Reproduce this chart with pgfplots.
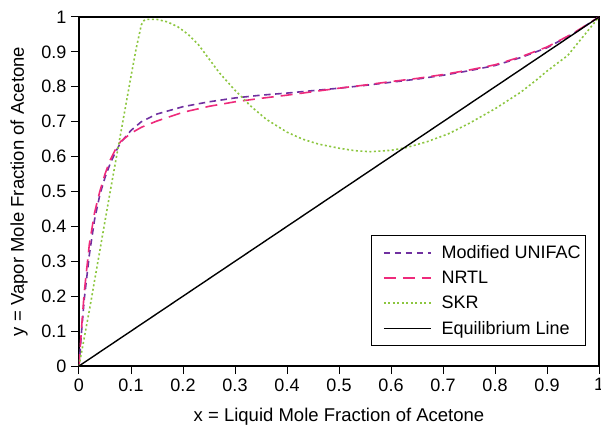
\documentclass[border=0pt]{standalone}
\usepackage{fontspec}
\setmainfont{Liberation Sans}
\usepackage{pgfplots}
\pgfplotsset{compat=1.18}
\definecolor{cpurple}{RGB}{112,48,160}
\definecolor{cpink}{RGB}{238,42,123}
\definecolor{cgreen}{RGB}{140,198,63}
\begin{document}
\begin{tikzpicture}[x=1pt,y=1pt]
\path[use as bounding box] (-79,-59) rectangle (522,366);
\begin{axis}[
  at={(0,0)}, anchor=south west,
  scale only axis, width=520pt, height=349pt,
  xmin=0, xmax=1, ymin=0, ymax=1,
  xtick={0,0.1,0.2,0.3,0.4,0.5,0.6,0.7,0.8,0.9,1},
  ytick={0,0.1,0.2,0.3,0.4,0.5,0.6,0.7,0.8,0.9,1},
  xticklabels={0,0.1,0.2,0.3,0.4,0.5,0.6,0.7,0.8,0.9,1},
  yticklabels={0,0.1,0.2,0.3,0.4,0.5,0.6,0.7,0.8,0.9,1},
  tick align=outside, xtick pos=bottom, ytick pos=left,
  major tick length=8pt,
  tick style={black, line width=1pt},
  axis line style={line width=1.1pt},
  ticklabel style={font=\fontsize{18}{21}\selectfont},
  yticklabel style={xshift=-1pt},
  xticklabel style={yshift=-1pt},
  every axis x label/.style={at={(axis description cs:0.5,-0.146)}, anchor=center},
  every axis y label/.style={at={(axis description cs:-0.1154,0.5)}, anchor=center, rotate=90},
  label style={font=\fontsize{18.5}{21}\selectfont},
  xlabel={x = Liquid Mole Fraction of Acetone},
  ylabel={y = Vapor Mole Fraction of Acetone},
  legend style={at={(0.975,0.057)}, anchor=south east, draw=black, line width=0.8pt,
    font=\fontsize{18}{21}\selectfont, row sep=7pt, inner xsep=3pt, inner ysep=8pt},
  legend cell align=left,
  legend image code/.code={\path (0pt,0pt); \draw[#1] (9pt,0pt) -- (56pt,0pt); \path (64pt,0pt);},
]
\addplot[cpurple, line width=1.6pt, dash pattern=on 6.5pt off 4.5pt] coordinates {
(0,0) (0.005,0.10) (0.01,0.19) (0.02,0.32) (0.03,0.42) (0.04,0.49) (0.05,0.54)
(0.06,0.58) (0.07,0.612) (0.08,0.64) (0.1,0.675) (0.12,0.70) (0.15,0.722)
(0.2,0.743) (0.25,0.757) (0.3,0.768) (0.35,0.776) (0.4,0.782) (0.45,0.789)
(0.5,0.796) (0.55,0.804) (0.6,0.813) (0.65,0.822) (0.7,0.833) (0.75,0.846)
(0.8,0.861) (0.85,0.884) (0.9,0.912) (0.95,0.952) (1,1)};
\addlegendentry{Modified UNIFAC}
\addplot[cpink, line width=1.6pt, dash pattern=on 12pt off 7pt] coordinates {
(0,0) (0.005,0.11) (0.01,0.21) (0.02,0.35) (0.03,0.44) (0.04,0.50) (0.05,0.55)
(0.06,0.59) (0.07,0.62) (0.08,0.643) (0.1,0.667) (0.12,0.684) (0.15,0.702)
(0.2,0.727) (0.25,0.744) (0.3,0.757) (0.35,0.767) (0.4,0.776) (0.45,0.786)
(0.5,0.796) (0.55,0.805) (0.6,0.815) (0.65,0.824) (0.7,0.835) (0.75,0.848)
(0.8,0.863) (0.85,0.886) (0.9,0.914) (0.95,0.953) (1,1)};
\addlegendentry{NRTL}
\addplot[cgreen, line width=1.6pt, dash pattern=on 2pt off 2.5pt] coordinates {
(0,0) (0.02,0.16) (0.04,0.33) (0.06,0.50) (0.08,0.665) (0.1,0.83) (0.11,0.91)
(0.12,0.978) (0.125,0.99) (0.13,0.993) (0.15,0.993) (0.17,0.986) (0.19,0.972)
(0.21,0.95) (0.23,0.92) (0.25,0.88) (0.27,0.84) (0.3,0.79) (0.33,0.745)
(0.36,0.707) (0.4,0.67) (0.43,0.65) (0.46,0.636) (0.5,0.624) (0.53,0.617)
(0.56,0.614) (0.6,0.618) (0.63,0.626) (0.67,0.643) (0.71,0.665) (0.75,0.695)
(0.8,0.737) (0.85,0.785) (0.88,0.82) (0.9,0.845) (0.94,0.89) (0.97,0.945) (1,1)};
\addlegendentry{SKR}
\addplot[black, line width=1.4pt] coordinates {(0,0) (1,1)};
\addlegendentry{Equilibrium Line}
\end{axis}
\end{tikzpicture}
\end{document}
